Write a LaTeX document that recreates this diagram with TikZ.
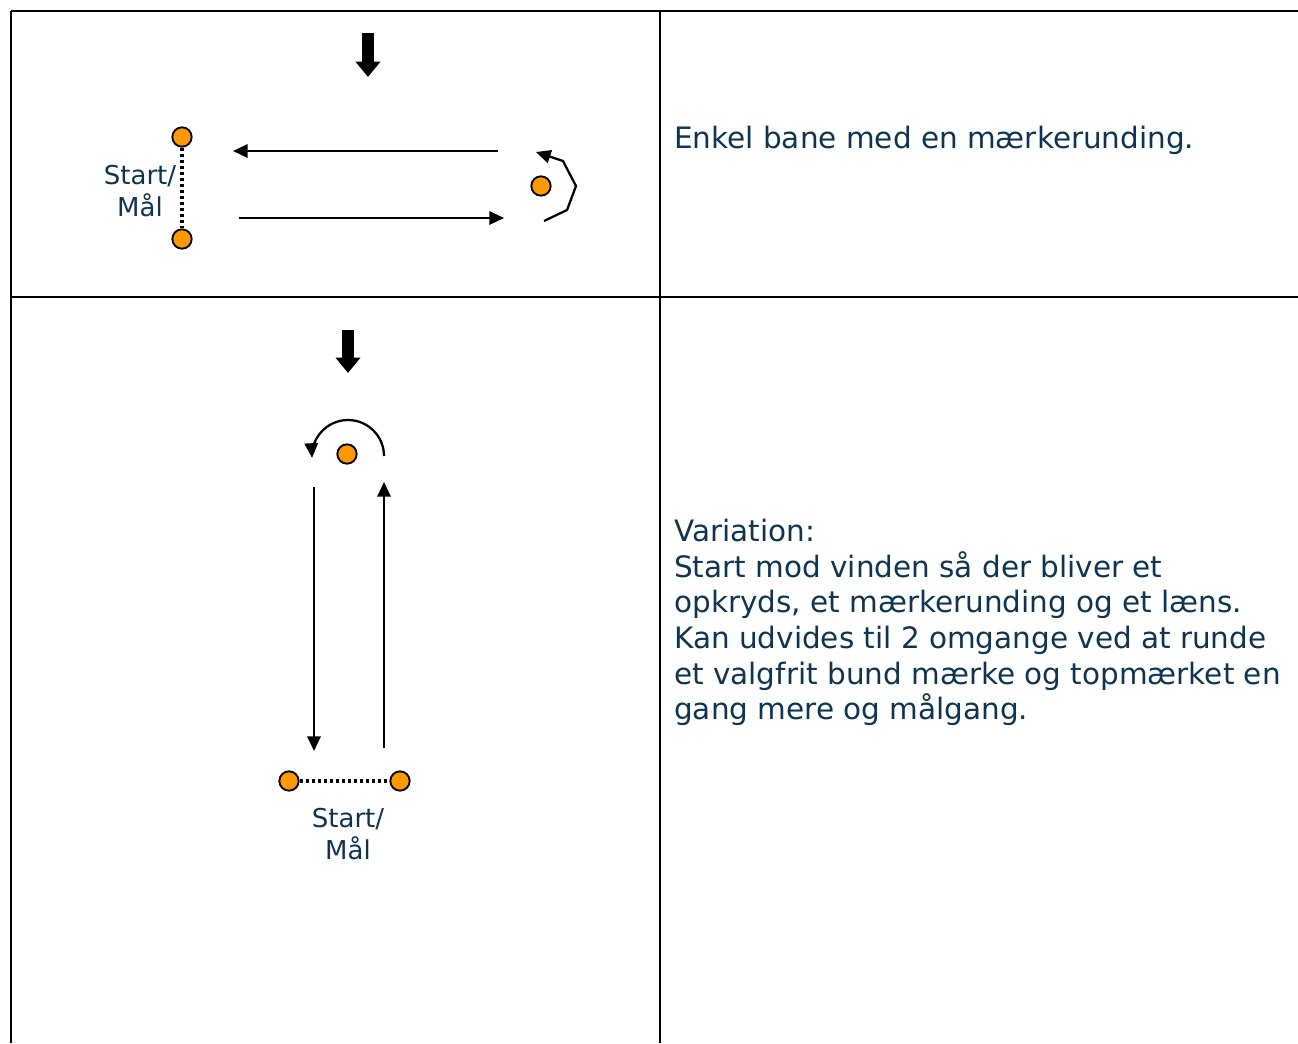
\documentclass[tikz,border=0pt]{standalone}
\usepackage{fontspec}
\setmainfont{DejaVu Sans}
\usetikzlibrary{arrows.meta}
\definecolor{navy}{RGB}{14,52,81}
\definecolor{buoyorange}{RGB}{255,153,0}
\tikzset{
  frame/.style={line width=1.5pt, black},
  buoy/.style={circle, draw=black, fill=buoyorange, line width=1.4pt, minimum size=14.5pt, inner sep=0pt},
  windarrow/.style={line width=8.5pt, -{Triangle[width=18pt,length=11.5pt]}},
  course/.style={line width=1.7pt, -{Triangle[width=10pt,length=11pt]}},
  gate/.style={line width=3pt, dash pattern=on 2.4pt off 2.1pt},
  lbl/.style={text=navy, font=\fontsize{19.5}{24}\selectfont, align=center, inner sep=0pt},
  desc/.style={text=navy, font=\fontsize{22.1}{26.7}\selectfont, align=left, inner sep=0pt}
}
\begin{document}
\begin{tikzpicture}[x=0.75pt, y=-0.75pt]
\useasboundingbox (0,0) rectangle (1298,1043);
% table
\draw[frame] (11,11) -- (1298,11);
\draw[frame] (11,297) -- (1298,297);
\draw[frame] (11,11) -- (11,1043);
\draw[frame] (660,11) -- (660,1043);

% ---- top diagram ----
\coordinate (w1s) at (368,33);
\coordinate (w1e) at (368,77);
\draw[windarrow] (w1s) -- (w1e);
\node[buoy] (s1) at (182,137) {};
\node[buoy] (f1) at (182,239) {};
\draw[gate] (s1) -- (f1);
\node[lbl] (l1) at (140,191) {Start/\\Mål};
\node[buoy] (m1) at (541,186) {};
\coordinate (a1s) at (498,151);
\coordinate (a1e) at (233,151);
\draw[course] (a1s) -- (a1e);
\coordinate (a2s) at (239,218);
\coordinate (a2e) at (504,218);
\draw[course] (a2s) -- (a2e);
\coordinate (r1) at (544,221);
\coordinate (r2) at (567,210);
\coordinate (r3) at (576,186);
\coordinate (r4) at (563,161);
\coordinate (r5) at (536,152);
\draw[course] (r1) -- (r2) -- (r3) -- (r4) -- (r5);

\node[desc, anchor=base west] (t1) at (674,148) {Enkel bane med en mærkerunding.};

% ---- bottom diagram ----
\coordinate (w2s) at (348,330);
\coordinate (w2e) at (348,373);
\draw[windarrow] (w2s) -- (w2e);
\node[buoy] (m2) at (347,454) {};
\coordinate (c1) at (384,456);
\draw[course] (c1) arc[start angle=0, end angle=-183, radius=36];
\coordinate (d1s) at (314,487);
\coordinate (d1e) at (314,751);
\draw[course] (d1s) -- (d1e);
\coordinate (u1s) at (384,748);
\coordinate (u1e) at (384,482);
\draw[course] (u1s) -- (u1e);
\node[buoy] (s2) at (289,781) {};
\node[buoy] (f2) at (400,781) {};
\draw[gate] (s2) -- (f2);
\node[lbl] (l2) at (348,834) {Start/\\Mål};

\node[desc, anchor=north west] (t2) at (674,519) {Variation:\\Start mod vinden så der bliver et\\opkryds, et mærkerunding og et læns.\\Kan udvides til 2 omgange ved at runde\\et valgfrit bund mærke og topmærket en\\gang mere og målgang.};
\end{tikzpicture}
\end{document}
